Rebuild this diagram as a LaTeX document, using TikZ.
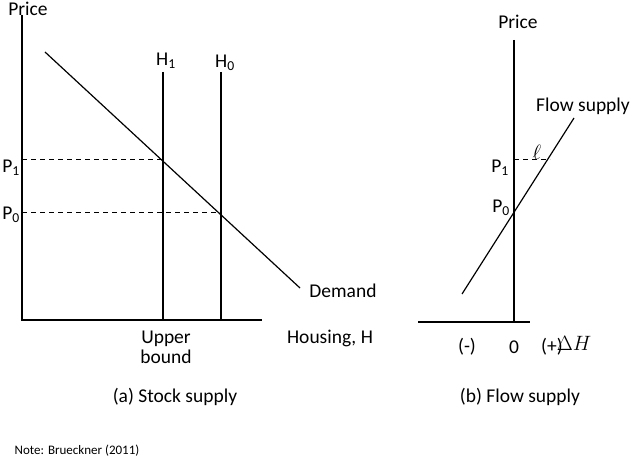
\documentclass[tikz,border=0pt]{standalone}
\usepackage{fontspec}
\setmainfont{Carlito}
\begin{document}
\begin{tikzpicture}[x=1pt,y=-1pt,
  ln/.style={line width=1.2pt},
  dsh/.style={line width=1pt,dash pattern=on 5pt off 4pt},
  lb/.style={font=\fontsize{19.5}{21}\selectfont,inner sep=0pt}]
\useasboundingbox (0,0) rectangle (644,462);
% left panel
\coordinate (lo) at (22,320); \coordinate (ltop) at (22,15); \coordinate (lx) at (262,320);
\draw[ln] (ltop) -- (lo) -- (lx);
\coordinate (d1) at (45,52); \coordinate (d2) at (300,288);
\draw[ln] (d1) -- (d2);
\coordinate (h1t) at (163,72); \coordinate (h1b) at (163,320);
\coordinate (h0t) at (221,72); \coordinate (h0b) at (221,320);
\draw[ln] (h1t) -- (h1b); \draw[ln] (h0t) -- (h0b);
\coordinate (p1l) at (22,160); \coordinate (p1r) at (163,160);
\coordinate (p0l) at (22,212); \coordinate (p0r) at (221,212);
\draw[dsh] (p1l) -- (p1r); \draw[dsh] (p0l) -- (p0r);
\node[lb] (price1) at (28,9) {Price};
\node[lb] (H1) at (166,61) {H\textsubscript{1}};
\node[lb] (H0) at (225,63) {H\textsubscript{0}};
\node[lb] (P1a) at (11,168) {P\textsubscript{1}};
\node[lb] (P0a) at (11,215) {P\textsubscript{0}};
\node[lb] (dem) at (343,291) {Demand};
\node[lb,align=center] (ub) at (166,347) {Upper\\[-1pt]bound};
\node[lb] (hous) at (330,338) {Housing, H};
\node[lb] (capa) at (175,397) {(a) Stock supply};
% right panel
\coordinate (ro) at (514,322); \coordinate (rtop) at (514,40);
\coordinate (rxl) at (418,322); \coordinate (rxr) at (530,322);
\draw[ln] (rtop) -- (ro); \draw[ln] (rxl) -- (rxr);
\coordinate (f1) at (462,294); \coordinate (f2) at (574,118);
\draw[ln] (f1) -- (f2);
\coordinate (q1l) at (514,160); \coordinate (q1r) at (550,160);
\draw[dsh] (q1l) -- (q1r);
\node[lb] (price2) at (518,22) {Price};
\node[lb] (fs) at (583,106) {Flow supply};
\node[lb] (ell) at (537,152) {$\ell$};
\node[lb] (P1b) at (500,168) {P\textsubscript{1}};
\node[lb] (P0b) at (501,208) {P\textsubscript{0}};
\node[lb] (minus) at (467,347) {(-)};
\node[lb] (zero) at (514,347) {0};
\node[lb] (plus) at (552,347) {(+)};
\node[lb] (dh) at (574,343) {$\Delta H$};
\node[lb] (capb) at (520,397) {(b) Flow supply};
\node[font=\fontsize{13}{14}\selectfont,inner sep=0pt] (note) at (77,451) {Note: Brueckner (2011)};
\end{tikzpicture}
\end{document}
